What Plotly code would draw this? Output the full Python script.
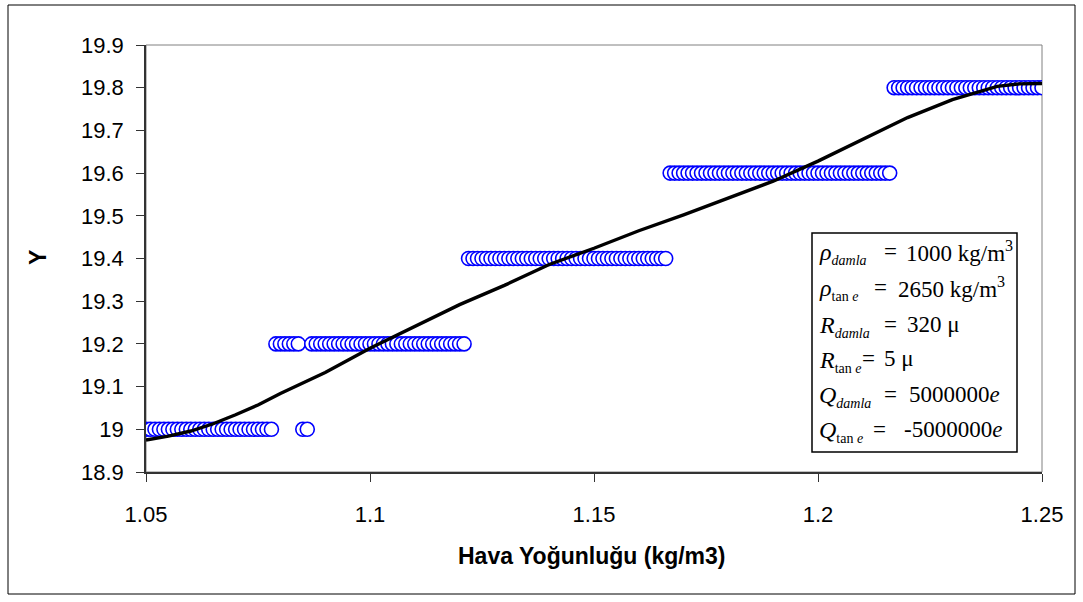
import plotly.graph_objects as go

# ---------------- data ----------------
x_19_0 = [1.050, 1.051, 1.052, 1.053, 1.054, 1.055, 1.056, 1.057, 1.058, 1.059,
          1.060, 1.061, 1.062, 1.063, 1.064, 1.065, 1.066, 1.067, 1.068, 1.069,
          1.070, 1.071, 1.072, 1.073, 1.074, 1.075, 1.076, 1.077, 1.078,
          1.085, 1.086]
x_19_2 = [1.079, 1.080, 1.081, 1.082, 1.083, 1.084,
          1.087, 1.088, 1.089, 1.090, 1.091, 1.092, 1.093, 1.094, 1.095, 1.096,
          1.097, 1.098, 1.099, 1.100, 1.101, 1.102, 1.103, 1.104, 1.105, 1.106,
          1.107, 1.108, 1.109, 1.110, 1.111, 1.112, 1.113, 1.114, 1.115, 1.116,
          1.117, 1.118, 1.119, 1.120, 1.121]
x_19_4 = [1.122, 1.123, 1.124, 1.125, 1.126, 1.127, 1.128, 1.129, 1.130, 1.131,
          1.132, 1.133, 1.134, 1.135, 1.136, 1.137, 1.138, 1.139, 1.140, 1.141,
          1.142, 1.143, 1.144, 1.145, 1.146, 1.147, 1.148, 1.149, 1.150, 1.151,
          1.152, 1.153, 1.154, 1.155, 1.156, 1.157, 1.158, 1.159, 1.160, 1.161,
          1.162, 1.163, 1.164, 1.165, 1.166]
x_19_6 = [1.167, 1.168, 1.169, 1.170, 1.171, 1.172, 1.173, 1.174, 1.175, 1.176,
          1.177, 1.178, 1.179, 1.180, 1.181, 1.182, 1.183, 1.184, 1.185, 1.186,
          1.187, 1.188, 1.189, 1.190, 1.191, 1.192, 1.193, 1.194, 1.195, 1.196,
          1.197, 1.198, 1.199, 1.200, 1.201, 1.202, 1.203, 1.204, 1.205, 1.206,
          1.207, 1.208, 1.209, 1.210, 1.211, 1.212, 1.213, 1.214, 1.215, 1.216]
x_19_8 = [1.217, 1.218, 1.219, 1.220, 1.221, 1.222, 1.223, 1.224, 1.225, 1.226,
          1.227, 1.228, 1.229, 1.230, 1.231, 1.232, 1.233, 1.234, 1.235, 1.236,
          1.237, 1.238, 1.239, 1.240, 1.241, 1.242, 1.243, 1.244, 1.245, 1.246,
          1.247, 1.248, 1.249, 1.250]
levels = [19.0, 19.2, 19.4, 19.6, 19.8]
level_x = [x_19_0, x_19_2, x_19_4, x_19_6, x_19_8]

fit_x = [1.050, 1.055, 1.060, 1.065, 1.070, 1.075, 1.080, 1.090, 1.100, 1.110,
         1.120, 1.130, 1.140, 1.150, 1.160, 1.170, 1.180, 1.190, 1.200, 1.210,
         1.220, 1.230, 1.240, 1.245, 1.250]
fit_y = [18.975, 18.984, 18.996, 19.013, 19.034, 19.057, 19.084, 19.133, 19.190, 19.241,
         19.292, 19.337, 19.386, 19.424, 19.465, 19.502, 19.542, 19.581, 19.628, 19.680,
         19.730, 19.772, 19.803, 19.809, 19.810]

x_ticks = [1.05, 1.10, 1.15, 1.20, 1.25]
x_tick_text = ["1.05", "1.1", "1.15", "1.2", "1.25"]
y_ticks = [18.9, 19.0, 19.1, 19.2, 19.3, 19.4, 19.5, 19.6, 19.7, 19.8, 19.9]
y_tick_text = ["18.9", "19", "19.1", "19.2", "19.3", "19.4", "19.5", "19.6", "19.7", "19.8", "19.9"]

SUB = '<sub><span style="font-size:14px">{}</span></sub>'
box_lhs = ["<i>ρ</i>" + SUB.format("<i>damla</i>"),
           "<i>ρ</i>" + SUB.format("tan <i>e</i>"),
           "<i>R</i>" + SUB.format("<i>damla</i>"),
           "<i>R</i>" + SUB.format("tan <i>e</i>"),
           "<i>Q</i>" + SUB.format("<i>damla</i>"),
           "<i>Q</i>" + SUB.format("tan <i>e</i>")]
box_rhs = ["1000 kg/m<sup>3</sup>",
           "2650 kg/m<sup>3</sup>",
           "320 μ",
           "5 μ",
           "5000000<i>e</i>",
           "-5000000<i>e</i>"]

# ---------------- layout constants (pixels) ----------------
W, H = 1083, 602
L, R, T, B = 146, 41, 45, 130
PW, PH = W - L - R, H - T - B

def px(xp):
    return (xp - L) / PW

def py(yp):
    return (H - B - yp) / PH

FONT = "Liberation Sans, Arial, sans-serif"
SERIF = "Liberation Serif, Times New Roman, serif"

fig = go.Figure()

for lv, xs in zip(levels, level_x):
    fig.add_trace(go.Scatter(
        x=xs, y=[lv] * len(xs), mode="markers",
        marker=dict(symbol="circle", size=14, color="white",
                    line=dict(color="#0000FF", width=1.6)),
        showlegend=False, hoverinfo="skip"))

fig.add_trace(go.Scatter(
    x=fit_x, y=fit_y, mode="lines",
    line=dict(color="black", width=3.4),
    showlegend=False, hoverinfo="skip"))

axis_common = dict(showgrid=False, zeroline=False, ticks="outside", ticklen=8,
                   tickwidth=1, tickcolor="#333333", showline=True,
                   linecolor="#333333", linewidth=1.5,
                   tickfont=dict(family=FONT, size=22, color="black"))

fig.update_xaxes(range=[1.05, 1.25], tickvals=x_ticks, ticktext=x_tick_text,
                 ticklabelstandoff=14, **axis_common)
fig.update_yaxes(range=[18.9, 19.9], tickvals=y_ticks, ticktext=y_tick_text,
                 ticklabelstandoff=8, **axis_common)

shapes = [
    dict(type="rect", xref="paper", yref="paper", x0=0, x1=1, y0=0, y1=1,
         line=dict(color="#808080", width=1), layer="below"),
    dict(type="rect", xref="paper", yref="paper",
         x0=px(8), x1=px(1075), y0=py(594), y1=py(5),
         line=dict(color="black", width=1)),
    dict(type="rect", xref="paper", yref="paper",
         x0=px(812), x1=px(1017), y0=py(452), y1=py(233),
         line=dict(color="black", width=1.5), fillcolor="white"),
]

annotations = [
    dict(text="<b>Hava Yoğunluğu (kg/m3)</b>", xref="paper", yref="paper",
         x=px(592), y=py(556), xanchor="center", yanchor="middle", showarrow=False,
         font=dict(family=FONT, size=23, color="black")),
    dict(text="<b>Y</b>", xref="paper", yref="paper", textangle=-90,
         x=px(38), y=py(258), xanchor="center", yanchor="middle", showarrow=False,
         font=dict(family=FONT, size=23, color="black")),
]

row_y = [253, 289, 326, 361, 396, 431]
eq_x = [890, 880, 890, 868, 890, 879]
rhs_x = [904, 896, 905, 882, 907, 902]
for i in range(len(box_lhs)):
    annotations.append(dict(text=box_lhs[i], xref="paper", yref="paper",
                            x=px(817), y=py(row_y[i]), xanchor="left", yanchor="middle",
                            showarrow=False, font=dict(family=SERIF, size=24, color="black")))
    annotations.append(dict(text="=", xref="paper", yref="paper",
                            x=px(eq_x[i]), y=py(row_y[i] - 2), xanchor="center", yanchor="middle",
                            showarrow=False, font=dict(family=SERIF, size=23, color="black")))
    annotations.append(dict(text=box_rhs[i], xref="paper", yref="paper",
                            x=px(rhs_x[i]), y=py(row_y[i] - 2), xanchor="left", yanchor="middle",
                            showarrow=False, font=dict(family=SERIF, size=23, color="black")))

fig.update_layout(width=W, height=H, margin=dict(l=L, r=R, t=T, b=B),
                  paper_bgcolor="white", plot_bgcolor="white",
                  shapes=shapes, annotations=annotations)

fig.write_html("out.html")
